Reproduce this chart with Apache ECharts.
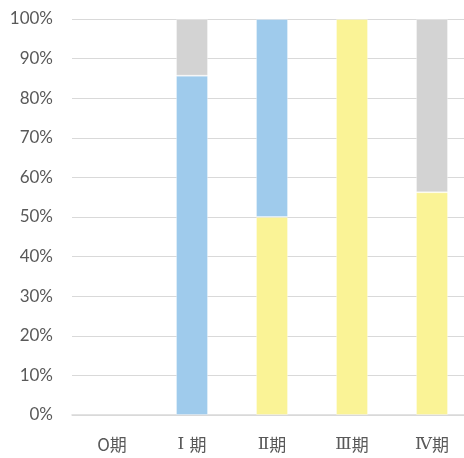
<!DOCTYPE html>
<html><head><meta charset="utf-8">
<script src="https://cdn.jsdelivr.net/npm/echarts@6/dist/echarts.min.js"></script>
<style>html,body{margin:0;padding:0;background:#fff;overflow:hidden;width:464px;height:458px}#c{width:472px;height:458px}</style>
</head><body><div id="c"></div>
<script>
const categories = ['O期', 'Ⅰ 期', 'Ⅱ期', 'Ⅲ期', 'Ⅳ期'];
const yellowVals = [null, null, 50, 100, 56.25];
const blueVals = [null, 85.7, 50, null, null];
const grayVals = [null, 14.3, null, null, 43.75];
const yTicks = [0, 10, 20, 30, 40, 50, 60, 70, 80, 90, 100];

const chart = echarts.init(document.getElementById('c'), null, {renderer: 'canvas', width: 472, height: 458});
const font = 'Lato, "Noto Sans CJK JP", sans-serif';
function bar(name, data, color) {
  return {
    name, type: 'bar', stack: 'a', data, barWidth: 32,
    itemStyle: {color, borderColor: 'rgba(255,255,255,0.3)', borderWidth: 1},
    animation: false
  };
}
function catLabel(v) {
  const m = v.match(/^([ⅠⅡⅢⅣ]+)(\s?)(期)$/);
  if (m) return '{r|' + m[1] + m[2] + '}{k|' + m[3] + '}';
  return '{k|' + v + '}';
}
chart.setOption({
  animation: false,
  grid: {left: 72, right: 0, top: 19, bottom: 43, containLabel: false},
  xAxis: {
    type: 'category', data: categories,
    axisLine: {lineStyle: {color: '#d9d9d9', width: 1.5}},
    axisTick: {show: false},
    axisLabel: {color: '#595959', fontSize: 17, fontFamily: font, margin: 21,
      interval: 0, hideOverlap: false,
      formatter: catLabel,
      rich: {
        r: {color: '#595959', fontSize: 17, fontFamily: '"DejaVu Serif", "Liberation Serif", serif'},
        k: {color: '#595959', fontSize: 17, fontFamily: '"Noto Sans CJK JP", sans-serif'}
      }}
  },
  yAxis: {
    type: 'value', min: 0, max: 100, interval: 10,
    axisLine: {show: false}, axisTick: {show: false},
    splitLine: {lineStyle: {color: '#d9d9d9', width: 1}},
    axisLabel: {color: '#595959', fontSize: 17, fontFamily: font, margin: 19,
      formatter: v => yTicks.includes(v) ? v + '%' : ''}
  },
  series: [
    bar('yellow', yellowVals, '#FAF396'),
    bar('blue', blueVals, '#9FCBEC'),
    bar('gray', grayVals, '#D3D3D3')
  ]
});
</script></body></html>
